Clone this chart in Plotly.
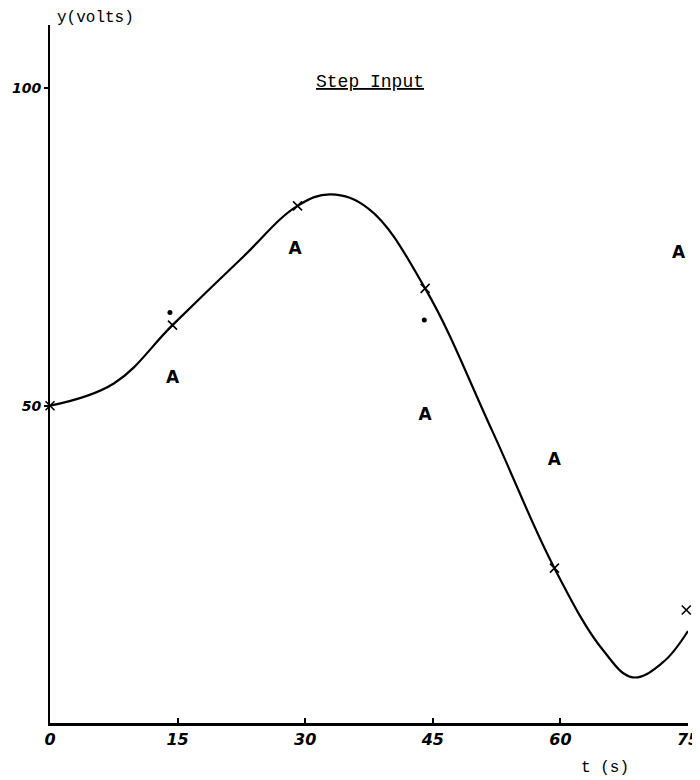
import plotly.graph_objects as go

# Smooth hand-drawn response curve
curve_t = [0, 7.5, 14.4, 22.5, 29.1, 33, 37.5, 44.1, 52, 59.3, 65, 68.5, 72, 75]
curve_y = [50, 53.5, 62.7, 73.2, 81.5, 83.3, 81.0, 68.5, 46.0, 24.4, 11.5, 7.2, 9.5, 14.5]

# "x" markers
x_t = [0, 14.4, 29.1, 44.1, 59.3, 74.8]
x_y = [50, 62.7, 81.5, 68.5, 24.4, 17.8]

# "A" (triangle) markers
a_t = [14.4, 28.8, 44.1, 59.3, 73.9]
a_y = [54.3, 74.6, 48.5, 41.4, 73.9]

# dots
d_t = [14.1, 44.0]
d_y = [64.7, 63.5]

x_ticks = [0, 15, 30, 45, 60, 75]
x_ticklabels = ["0", "15", "30", "45", "60", "75"]
y_ticks = [50, 100]
y_ticklabels = ["50", "100"]

OFF = 8  # page body margin
W, H = 692, 772
L, R, T, B = 42, 12, 17, 57

fig = go.Figure()
fig.add_trace(go.Scatter(x=curve_t, y=curve_y, mode="lines",
                         line=dict(color="black", width=2.2, shape="spline", smoothing=1.1),
                         showlegend=False, hoverinfo="skip"))
fig.add_trace(go.Scatter(x=x_t, y=x_y, mode="markers",
                         marker=dict(symbol="x-thin", size=9, line=dict(color="black", width=1.6)),
                         showlegend=False, cliponaxis=False))
fig.add_trace(go.Scatter(x=a_t, y=a_y, mode="text", text=["A"] * len(a_t),
                         textfont=dict(family="DejaVu Sans", size=17, color="black", weight="bold"),
                         showlegend=False, cliponaxis=False))
fig.add_trace(go.Scatter(x=d_t, y=d_y, mode="markers",
                         marker=dict(symbol="circle", size=5, color="black"),
                         showlegend=False, cliponaxis=False))

def px2paper(px, py):
    px -= OFF
    py -= OFF
    return (px - L) / (W - L - R), (H - B - py) / (H - T - B)

anns = []
for text, px, py, anchor, size in [("y(volts)", 55, 18, "left", 16),
                                    ("<u>Step Input</u>", 370, 82, "center", 18),
                                    ("t (s)", 605, 768, "center", 16)]:
    ax, ay = px2paper(px, py)
    anns.append(dict(text=text, x=ax, y=ay, xref="paper", yref="paper", showarrow=False,
                     xanchor=anchor, yanchor="middle",
                     font=dict(family="Liberation Mono", size=size, color="black")))

fig.update_layout(
    width=W, height=H,
    margin=dict(l=L, r=R, t=T, b=B, autoexpand=False),
    plot_bgcolor="white", paper_bgcolor="white",
    xaxis=dict(range=[0, 75], showgrid=False, zeroline=False, showline=True, automargin=False,
               linecolor="black", linewidth=2.5, ticks="inside", ticklen=5,
               tickcolor="black", tickwidth=1.5,
               tickvals=x_ticks, ticktext=x_ticklabels,
               tickfont=dict(family="DejaVu Sans", size=16, color="black", style="italic", weight="bold")),
    yaxis=dict(range=[0, 110], showgrid=False, zeroline=False, showline=True, automargin=False,
               linecolor="black", linewidth=2, ticks="outside", ticklen=4,
               tickcolor="black", tickwidth=1.5,
               tickvals=y_ticks, ticktext=y_ticklabels,
               tickfont=dict(family="DejaVu Sans", size=14, color="black", style="italic", weight="bold")),
    annotations=anns,
)

fig.write_html("out.html")
